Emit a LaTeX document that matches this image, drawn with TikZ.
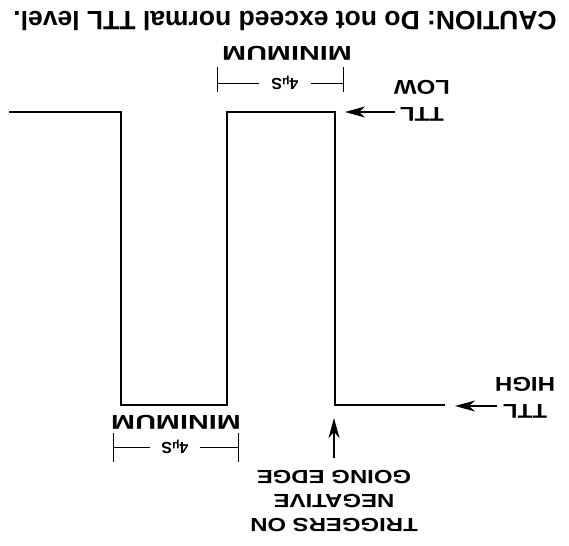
\documentclass[tikz,border=0pt]{standalone}
\usepackage{fontspec}
\setmainfont{Liberation Sans}
\usetikzlibrary{arrows.meta, positioning}
\tikzset{
    txt/.style={
        font=\bfseries\fontsize{20}{27}\selectfont,
        rotate=180, align=center, inner sep=0pt
    },
    lbl/.style={
        txt,
        xscale=1.2
    },
    dimtxt/.style={
        txt,
        font=\bfseries\fontsize{16}{16}\selectfont,
        inner xsep=12pt
    },
    wave/.style={line width=2pt, line join=miter},
    dim/.style={line width=0.9pt},
    ptr/.style={
        line width=1.4pt,
        -{Stealth[length=20pt,width=11pt,inset=6pt]}
    },
}
\begin{document}
\begin{tikzpicture}[x=1pt,y=-1pt]
        \useasboundingbox (0,0) rectangle (569,545);

        % pulse train
        \coordinate (w0) at (9,112);
        \coordinate (w1) at (121,112);
        \coordinate (w2) at (121,405);
        \coordinate (w3) at (227,405);
        \coordinate (w4) at (227,112);
        \coordinate (w5) at (335,112);
        \coordinate (w6) at (335,405);
        \coordinate (w7) at (445,405);
        \draw[wave] (w0) -- (w1) -- (w2) -- (w3) -- (w4) -- (w5) -- (w6) -- (w7);

        % caption and labels
        \node[txt, font=\bfseries\fontsize{26.5}{26.5}\selectfont] (caution) at (285,21) {CAUTION: Do not exceed normal TTL level.};
        \node[lbl, xscale=1.2] (minTop) at (287,53) {MINIMUM};
        \node[lbl, xscale=1.2] (minBot) at (176,422) {MINIMUM};
        \node[lbl] (ttlLow) at (422,101) {TTL\\LOW};
        \node[lbl] (ttlHigh) at (525,398) {TTL\\HIGH};
        \node[lbl, xscale=1.05, font=\bfseries\fontsize{19}{24}\selectfont] (trig) at (334,501) {TRIGGERS ON\\NEGATIVE\\GOING EDGE};

        % 4 us dimensions
        \node[dimtxt] (usTop) at (285,83) {4{\fontsize{12}{12}\selectfont μ}S};
        \coordinate (dtl) at (217,83);
        \coordinate (dtr) at (343,83);
        \draw[dim] (217,67) -- (217,92);
        \draw[dim] (343,67) -- (343,92);
        \draw[dim] (dtl) -- (usTop.east);
        \draw[dim] (usTop.west) -- (dtr);

        \node[dimtxt, inner xsep=11pt] (usBot) at (175,447) {4{\fontsize{12}{12}\selectfont μ}S};
        \coordinate (dbl) at (113,447);
        \coordinate (dbr) at (238,447);
        \draw[dim] (113,433) -- (113,462);
        \draw[dim] (238,433) -- (238,462);
        \draw[dim] (dbl) -- (usBot.east);
        \draw[dim] (usBot.west) -- (dbr);

        % pointers
        \coordinate (lowTail) at (395,112);
        \coordinate (lowTip) at (345,112);
        \coordinate (highTail) at (497,406);
        \coordinate (highTip) at (455,406);
        \coordinate (trigTail) at (334,458);
        \coordinate (trigTip) at (334,418);
        \draw[ptr] (lowTail) -- (lowTip);
        \draw[ptr] (highTail) -- (highTip);
        \draw[ptr] (trigTail) -- (trigTip);
\end{tikzpicture}
\end{document}
